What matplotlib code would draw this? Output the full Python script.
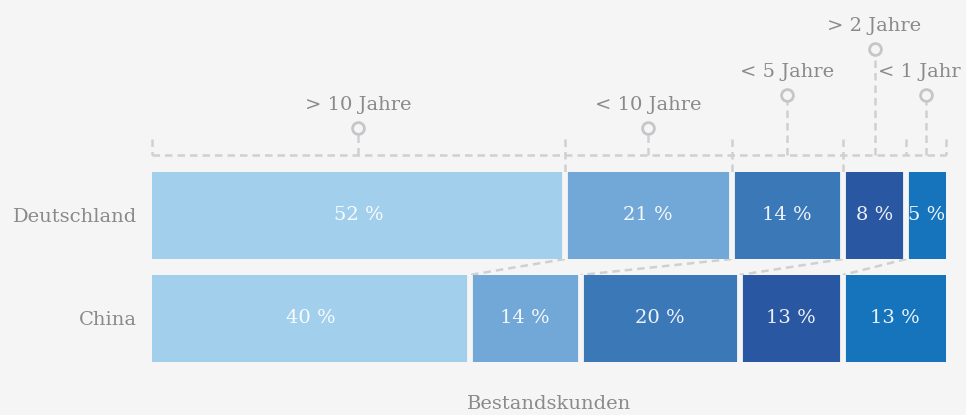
import numpy as np
import matplotlib.pyplot as plt

# Daten
laender = ["Deutschland", "China"]
gruppen = ["> 10 Jahre", "< 10 Jahre", "< 5 Jahre", "> 2 Jahre", "< 1 Jahr"]
deutschland = [52, 21, 14, 8, 5]
china = [40, 14, 20, 13, 13]

farben = ["#a2cfec", "#72a8d7", "#3b78b8", "#2a57a2", "#1574bc"]
bg = "#f4f5f4"
grau = "#8a8a8a"
strich = "#d0d0d0"
dash = (0, (3, 2))

plt.rcParams["font.family"] = ["DejaVu Serif"]

fig = plt.figure(figsize=(9.66, 4.15), dpi=100, facecolor=bg)
ax = fig.add_axes([152 / 966, 0, 794 / 966, 1])
ax.set_facecolor(bg)

werte = np.array([deutschland, china])
hoehe = 0.845
for i, land in enumerate(laender):
    links = 0
    for j, w in enumerate(werte[i]):
        ax.barh(i, w, left=links, height=hoehe, color=farben[j], lw=0)
        ax.text(links + w / 2, i, f"{w} %", ha="center", va="center",
                color="white", alpha=0.92, fontsize=14)
        links += w
    # Trennfugen zwischen den Segmenten
    ax.vlines(np.cumsum(werte[i])[:-1], i - hoehe / 2, i + hoehe / 2,
              color=bg, lw=4.2)

# Verbindungslinien zwischen den Zeilen
grenzen_de = np.cumsum(deutschland)[:-1]
grenzen_cn = np.cumsum(china)[:-1]
for gd, gc in zip(grenzen_de, grenzen_cn):
    ax.plot([gd, gc], [hoehe / 2, 1 - hoehe / 2], color=strich, lw=1.8,
            ls=dash, zorder=0)

# Klammer oberhalb
y_klammer = -0.59
ax.plot([0, 100], [y_klammer, y_klammer], color=strich, lw=1.8,
        ls=dash, clip_on=False)
kanten = np.concatenate([[0], np.cumsum(deutschland)])
for n, k in enumerate(kanten):
    unten = -hoehe / 2 if n in (1, 2, 3) else y_klammer
    ax.plot([k, k], [-0.74, unten], color=strich, lw=1.8, ls=dash,
            clip_on=False)

mitten = np.cumsum(deutschland) - np.array(deutschland) / 2
kreis_y = [-0.85, -0.85, -1.17, -1.62, -1.17]
text_dx = [0, 0, 0, 0, -0.9]
for m, ky, dx, g in zip(mitten, kreis_y, text_dx, gruppen):
    ax.plot([m, m], [y_klammer, ky], color=strich, lw=1.8, ls=dash,
            clip_on=False)
    ax.plot(m, ky, "o", ms=8.5, mfc=bg, mec="#c6c6ca", mew=2, clip_on=False)
    ax.text(m + dx, ky - 0.22, g, ha="center", va="center", color=grau,
            fontsize=14, clip_on=False)

ax.text(50, 1.83, "Bestandskunden", ha="center", va="center", color=grau,
        fontsize=14)

ax.set_xlim(0, 100)
ax.set_ylim(1.937, -2.092)
ax.set_yticks(range(len(laender)))
ax.set_yticklabels(laender, color=grau, fontsize=14)
ax.tick_params(axis="y", length=0, pad=11)
ax.set_xticks([])
for s in ax.spines.values():
    s.set_visible(False)

fig.savefig("out.png", dpi=100, facecolor=bg)
